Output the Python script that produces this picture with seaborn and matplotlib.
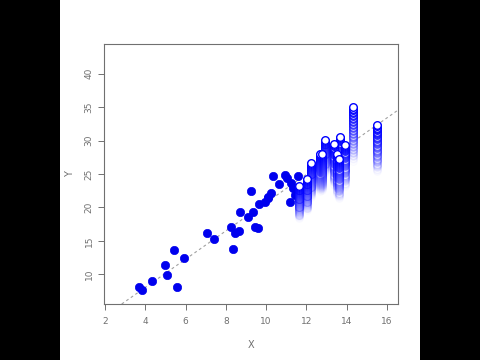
import numpy as np
import pandas as pd
import matplotlib
matplotlib.use("Agg")
import matplotlib.pyplot as plt
from matplotlib.patches import Rectangle
import seaborn as sns

# Solid (settled) points
x_solid = [3.69, 3.81, 4.32, 4.99, 5.09, 5.43, 5.55, 5.91, 7.04, 7.41,
           8.25, 8.37, 8.44, 8.67, 8.72, 9.08, 9.23, 9.36, 9.45, 9.58,
           9.65, 9.95, 10.09, 10.11, 10.24, 10.33, 10.62, 10.96, 11.05, 11.25,
           11.19, 11.35, 11.57, 11.45]
y_solid = [8.06, 7.66, 8.95, 11.4, 9.9, 13.64, 8.1, 12.4, 16.13, 15.23,
           17.13, 13.74, 16.13, 16.48, 19.37, 18.62, 22.5, 19.27, 17.13, 16.88,
           20.51, 20.86, 21.36, 21.6, 22.1, 24.65, 23.5, 24.8, 24.4, 23.6,
           20.85, 22.86, 24.7, 21.8]

# Moving points (white head with fading trail)
x_trail = [11.64, 12.02, 12.24, 12.68, 12.78, 12.94, 13.38, 13.68, 13.54, 13.64, 13.90, 14.34, 15.50]
y_top = [23.2, 24.2, 26.6, 28.05, 28.05, 30.1, 29.45, 30.6, 28.0, 27.3, 29.4, 34.95, 32.3]
y_bottom = [18.4, 19.6, 21.6, 22.4, 22.6, 25.2, 23.4, 24.0, 22.0, 21.4, 23.2, 27.0, 25.4]

# Reference line
line_intercept = -0.39
line_slope = 2.11

x_ticks = [2, 4, 6, 8, 10, 12, 14, 16]
y_ticks = [10, 15, 20, 25, 30, 35, 40]

sns.set_style("white")
plt.rcParams['font.family'] = ['DejaVu Sans']

fig = plt.figure(figsize=(4.8, 3.6), dpi=100)
fig.patch.set_facecolor("black")
fig.add_artist(Rectangle((60 / 480, 0), 360 / 480, 1, transform=fig.transFigure,
                         facecolor="white", edgecolor="none", zorder=0))
ax = fig.add_axes([104 / 480, 1 - 304 / 360, 294 / 480, 260 / 360])
ax.set_facecolor("white")

ax.set_xlim(1.94, 16.56)
ax.set_ylim(5.56, 44.44)

ax.axline((0, line_intercept), slope=line_slope, color="#a0a0a0",
          linestyle=(0, (2.5, 2.5)), linewidth=0.8, zorder=1)

df_solid = pd.DataFrame({"x": x_solid, "y": y_solid})
sns.scatterplot(data=df_solid, x="x", y="y", ax=ax, s=36, color="#0000ee",
                edgecolor="#0000ee", linewidth=0.5, zorder=2)

n_steps = 36
rows = []
for xi, yt, yb in zip(x_trail, y_top, y_bottom):
    for k in range(n_steps + 1):
        t = k / n_steps
        rows.append({"x": xi, "y": yb + (yt - yb) * t, "step": k})
df_trail = pd.DataFrame(rows)
for k in range(n_steps + 1):
    sub = df_trail[df_trail["step"] == k]
    a = (k / n_steps) ** 1.1
    a = max(a, 0.02)
    sns.scatterplot(data=sub, x="x", y="y", ax=ax, s=30, color="white",
                    edgecolor="#0000ff", linewidth=1.0, alpha=a, zorder=3 + k * 0.01)

ax.set_xticks(x_ticks)
ax.set_yticks(y_ticks)
ax.set_xticklabels([str(v) for v in x_ticks])
ax.set_yticklabels([str(v) for v in y_ticks], rotation=90, va="center")
ax.tick_params(axis="both", length=4.5, width=0.7, color="#707070",
               labelcolor="#707070", labelsize=6.5, bottom=True, left=True)
ax.tick_params(axis="x", pad=5)
ax.tick_params(axis="y", pad=3)
for sp in ax.spines.values():
    sp.set_color("#707070")
    sp.set_linewidth(0.8)
ax.set_xlabel("X", color="#707070", fontsize=7, labelpad=10)
ax.set_ylabel("Y", color="#707070", fontsize=7)
ax.yaxis.set_label_coords(-0.10, 0.5)

fig.savefig("out.png", dpi=100, facecolor=fig.get_facecolor())
